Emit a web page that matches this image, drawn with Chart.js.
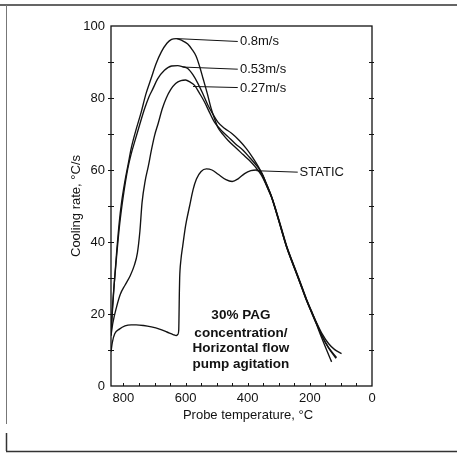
<!DOCTYPE html>
<html>
<head>
<meta charset="utf-8">
<title>Cooling rate vs probe temperature</title>
<script src="https://cdn.jsdelivr.net/npm/chart.js@4.4.1/dist/chart.umd.min.js"></script>
<style>
  html, body { margin: 0; padding: 0; background: #fff; }
  canvas { display: block; }
</style>
</head>
<body>
<canvas id="chart" width="457" height="455"></canvas>
<script>
// Probe temperature (°C) and cooling rate (°C/s), one pair of arrays per curve

// 0.8 m/s
const temp08 = [840, 836, 830, 822, 814, 806, 795, 785, 775, 760, 743, 728, 711, 695, 678, 660, 645, 630, 612, 593, 580, 566, 555, 544, 530, 518, 505, 496, 480, 463, 440, 415, 395, 377, 356, 340, 323, 307, 291, 275, 259, 243, 227, 211, 195, 179, 162, 146, 130];
const rate08 = [14, 20, 28, 37, 45, 51, 57, 61.5, 66, 71, 76, 81, 85.4, 89.5, 92.8, 95.2, 96.3, 96.5, 96, 95, 93.6, 91.6, 88.8, 85.5, 81.2, 77.2, 73.8, 71.8, 69.9, 68.2, 66.3, 64.3, 62.7, 61, 58.6, 55.8, 52.3, 47.9, 43.2, 38.6, 34.8, 31.2, 27.5, 23.8, 20.5, 17.2, 13.4, 10, 6.7];

// 0.53 m/s
const temp053 = [840, 836, 830, 822, 812, 800, 786, 775, 764, 748, 732, 718, 705, 690, 668, 645, 625, 610, 593, 576, 560, 544, 528, 512, 496, 475, 452, 427, 405, 385, 365, 350, 336, 323, 307, 291, 275, 259, 243, 227, 211, 195, 179, 160, 140, 120, 98];
const rate053 = [15, 21, 28, 36, 45, 53, 60.4, 64.5, 67.8, 72.5, 77, 80.3, 82.6, 85.3, 87.7, 88.9, 89, 88.7, 88.2, 86.4, 84, 81.1, 78, 75.5, 73.3, 71.6, 70.2, 68.2, 66, 63.6, 60.8, 58, 55, 52.5, 48.3, 43.7, 39, 35.2, 31.6, 27.9, 24.2, 20.9, 17.7, 14.4, 11.8, 10.1, 9];

// 0.27 m/s
const temp027 = [840, 834, 822, 810, 795, 779, 765, 755, 747, 740, 730, 720, 710, 700, 688, 675, 662, 648, 632, 615, 600, 585, 571, 555, 539, 523, 507, 485, 463, 440, 415, 395, 377, 356, 340, 323, 307, 291, 275, 259, 243, 227, 211, 195, 179, 160, 140, 114];
const rate027 = [14, 17.5, 22, 25.5, 28, 30.5, 33.5, 37, 43, 51, 57, 61, 65.5, 69.5, 73, 77, 80, 82.3, 84, 84.8, 85, 84.4, 83.5, 81.3, 78.9, 76, 73.3, 71, 69.2, 67.3, 65.5, 63.6, 61.8, 59.4, 56.2, 52.5, 48.1, 43.4, 38.8, 35, 31.4, 27.7, 24, 20.7, 17.5, 13.8, 10.7, 7.9];

// static bath
const tempStatic = [840, 836, 828, 813, 795, 775, 759, 735, 710, 684, 660, 640, 630, 625, 622, 621, 620, 619, 615, 609, 600, 587, 576, 565, 550, 533, 515, 495, 470, 450, 430, 410, 390, 372, 356, 340, 323, 307, 291, 275, 259, 243, 227, 211, 195, 179, 160, 140, 116];
const rateStatic = [9.5, 12, 14.5, 15.8, 16.7, 17, 17, 16.8, 16.4, 15.8, 15, 14.3, 14, 14.3, 15.5, 20, 26, 30, 35, 39, 44.5, 50, 54.5, 57.5, 59.6, 60.3, 60, 58.8, 57.3, 56.8, 57.6, 59, 59.8, 60, 59.2, 56.2, 52.5, 48, 43.3, 38.7, 34.9, 31.3, 27.6, 23.9, 20.6, 17.4, 13.7, 10.6, 7.7];

const curveNames = ['0.8m/s', '0.53m/s', '0.27m/s', 'STATIC'];

// leader lines from each curve to its label: [tempFrom, rateFrom, tempTo, rateTo]
const leaders = [
  [629, 96.5, 432, 95.7],
  [610, 88.6, 432, 88],
  [576, 83.2, 432, 82.9],
  [372, 59.8, 239, 59.4]
];
// where each label text starts
const labelTemp = [425, 425, 425, 233];
const labelRate = [95.6, 87.9, 82.6, 59.3];

const xTicks = [0, 200, 400, 600, 800];
const yTicks = [0, 20, 40, 60, 80, 100];

const xTitle = 'Probe temperature, °C';
const yTitle = 'Cooling rate, °C/s';

const noteLines = ['30% PAG', 'concentration/', 'Horizontal flow', 'pump agitation'];
const noteTemp = 422;
const noteRate = [19.6, 14.6, 10.4, 6.0];

const INK = '#121212';
const FONT = "'Liberation Sans', Arial, sans-serif";

function toPoints(xs, ys) {
  return xs.map((x, i) => ({ x: x, y: ys[i] }));
}

const curveSets = [
  [temp08, rate08],
  [temp053, rate053],
  [temp027, rate027],
  [tempStatic, rateStatic]
].map(([xs, ys], i) => ({
  label: curveNames[i],
  data: toPoints(xs, ys),
  borderColor: INK,
  borderWidth: 1.35,
  pointRadius: 0,
  cubicInterpolationMode: 'monotone',
  fill: false
}));

const leaderSets = leaders.map(l => ({
  label: 'leader',
  data: [{ x: l[0], y: l[1] }, { x: l[2], y: l[3] }],
  borderColor: INK,
  borderWidth: 1,
  pointRadius: 0,
  tension: 0,
  fill: false
}));

// page frame, plot box, minor ticks and the text labels
const decorations = {
  id: 'decorations',
  afterDraw(chart) {
    const { ctx, chartArea: a, scales } = chart;
    const x = scales.x, y = scales.y;
    ctx.save();

    // scanned page frame
    ctx.strokeStyle = '#333';
    ctx.lineWidth = 1.5;
    ctx.beginPath();
    ctx.moveTo(0, 5); ctx.lineTo(457, 5);
    ctx.moveTo(6, 451.5); ctx.lineTo(457, 451.5);
    ctx.stroke();
    ctx.lineWidth = 1;
    ctx.strokeStyle = '#777';
    ctx.beginPath();
    ctx.moveTo(6.5, 5); ctx.lineTo(6.5, 424);
    ctx.stroke();
    ctx.strokeStyle = '#333';
    ctx.lineWidth = 1.5;
    ctx.beginPath();
    ctx.moveTo(6.5, 433); ctx.lineTo(6.5, 451);
    ctx.stroke();

    // plot box
    ctx.strokeStyle = INK;
    ctx.lineWidth = 1.3;
    ctx.strokeRect(a.left, a.top, a.right - a.left, a.bottom - a.top);

    // minor ticks
    ctx.lineWidth = 1;
    ctx.beginPath();
    for (let v = 10; v < 100; v += 10) {
      const py = Math.round(y.getPixelForValue(v)) + 0.5;
      ctx.moveTo(a.left - 3, py); ctx.lineTo(a.left + 3, py);
      ctx.moveTo(a.right - 3, py); ctx.lineTo(a.right + 2, py);
    }
    for (let v = 50; v < 840; v += 50) {
      const px = Math.round(x.getPixelForValue(v)) + 0.5;
      ctx.moveTo(px, a.bottom); ctx.lineTo(px, a.bottom - 3);
    }
    ctx.stroke();

    ctx.fillStyle = INK;
    ctx.textBaseline = 'middle';

    // axis titles
    ctx.font = '13px ' + FONT;
    ctx.textAlign = 'center';
    ctx.fillText(xTitle, 248, 415);
    ctx.save();
    ctx.translate(76, (a.top + a.bottom) / 2);
    ctx.rotate(-Math.PI / 2);
    ctx.fillText(yTitle, 0, 0);
    ctx.restore();

    // curve labels
    ctx.textAlign = 'left';
    curveNames.forEach((name, i) => {
      ctx.fillText(name, x.getPixelForValue(labelTemp[i]), y.getPixelForValue(labelRate[i]));
    });

    // note
    ctx.font = 'bold 13.5px ' + FONT;
    ctx.textAlign = 'center';
    noteLines.forEach((line, i) => {
      ctx.fillText(line, x.getPixelForValue(noteTemp), y.getPixelForValue(noteRate[i]));
    });

    ctx.restore();
  }
};

new Chart(document.getElementById('chart'), {
  type: 'line',
  data: { datasets: curveSets.concat(leaderSets) },
  options: {
    responsive: false,
    animation: false,
    layout: { padding: { top: 26, right: 85, left: 0, bottom: 0 } },
    plugins: {
      legend: { display: false },
      tooltip: { enabled: false }
    },
    scales: {
      x: {
        type: 'linear',
        reverse: true,
        min: 0,
        max: 840,
        afterBuildTicks: s => { s.ticks = xTicks.map(v => ({ value: v })); },
        afterFit: s => { s.height = 69; },
        grid: { display: false, drawTicks: false },
        border: { display: false },
        ticks: { color: INK, padding: 5, font: { family: FONT, size: 13 }, maxRotation: 0 }
      },
      y: {
        type: 'linear',
        min: 0,
        max: 100,
        afterBuildTicks: s => { s.ticks = yTicks.map(v => ({ value: v })); },
        afterFit: s => { s.width = 111; },
        grid: { display: false, drawTicks: false },
        border: { display: false },
        ticks: { color: INK, padding: 6, font: { family: FONT, size: 13 } }
      }
    }
  },
  plugins: [decorations]
});
</script>
</body>
</html>
